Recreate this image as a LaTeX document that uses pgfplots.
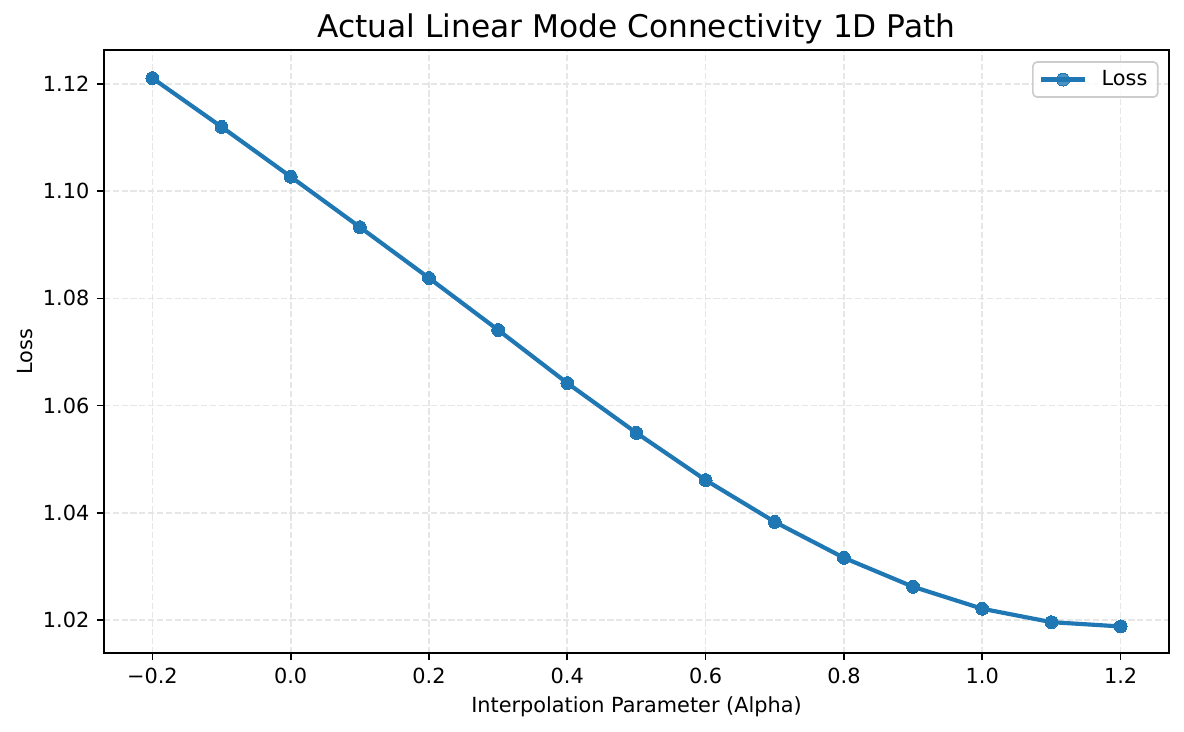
\documentclass[border=0pt]{standalone}
\usepackage{fontspec}
\setmainfont{DejaVu Sans}
\usepackage{pgfplots}
\pgfplotsset{compat=1.18}
\definecolor{mplblue}{HTML}{1F77B4}
\definecolor{gridgray}{HTML}{E6E6E6}
\definecolor{legendgray}{HTML}{CCCCCC}

\begin{document}
\begin{tikzpicture}
\useasboundingbox (-49.9pt,-37.9pt) rectangle (518.5pt,313.5pt);
\begin{axis}[
  scale only axis,
  width=511.3pt, height=289.5pt,
  xmin=-0.27, xmax=1.27,
  ymin=1.01384, ymax=1.12634,
  axis line style={black, line width=0.8pt},
  xtick={-0.2,0,0.2,0.4,0.6,0.8,1.0,1.2},
  xticklabels={−0.2,0.0,0.2,0.4,0.6,0.8,1.0,1.2},
  ytick={1.02,1.04,1.06,1.08,1.10,1.12},
  yticklabels={1.02,1.04,1.06,1.08,1.10,1.12},
  xtick pos=left, ytick pos=left,
  tick align=outside,
  major tick length=3.5pt,
  tick style={black, line width=0.8pt},
  ticklabel style={font=\fontsize{10}{12}\selectfont},
  xmajorgrids, ymajorgrids,
  grid style={gridgray, line width=0.8pt, dash pattern=on 2.96pt off 1.28pt},
  title={Actual Linear Mode Connectivity 1D Path},
  title style={font=\fontsize{15}{18}\selectfont, at={(axis description cs:0.5,1)}, anchor=base, inner sep=0pt},
  xlabel={Interpolation Parameter (Alpha)},
  xlabel style={font=\fontsize{10}{12}\selectfont, at={(axis description cs:0.5,0)}, anchor=base, yshift=-28.6pt, inner sep=0pt},
  ylabel={Loss},
  every axis y label/.style={at={(axis description cs:-0.0675,0.5)}, rotate=90, anchor=base, inner sep=0pt, font=\fontsize{10}{12}\selectfont},
  legend style={at={(axis description cs:1,1)}, anchor=north east, xshift=-5pt, yshift=-5.4pt,
    draw=legendgray, line width=0.8pt, rounded corners=2pt, fill=white, fill opacity=0.8, text opacity=1,
    font=\fontsize{10}{12}\selectfont, inner xsep=3pt, inner ysep=2pt, column sep=5pt},
  legend cell align=left,
  legend image code/.code={\draw[mark repeat=2,mark phase=2,#1] plot coordinates {(0pt,0pt) (10.5pt,0pt) (21pt,0pt)};},
]
\addplot[color=mplblue, line width=2pt, mark=*, mark size=3.1pt, mark options={solid, fill=mplblue, draw=mplblue, line width=0pt}]
coordinates {
  (-0.2, 1.1211)
  (-0.1, 1.1120)
  (0.0, 1.1027)
  (0.1, 1.0933)
  (0.2, 1.0838)
  (0.3, 1.0741)
  (0.4, 1.0642)
  (0.5, 1.0549)
  (0.6, 1.0461)
  (0.7, 1.0383)
  (0.8, 1.0316)
  (0.9, 1.0262)
  (1.0, 1.0221)
  (1.1, 1.0196)
  (1.2, 1.0188)
};
\legend{Loss}
\end{axis}
\end{tikzpicture}
\end{document}
